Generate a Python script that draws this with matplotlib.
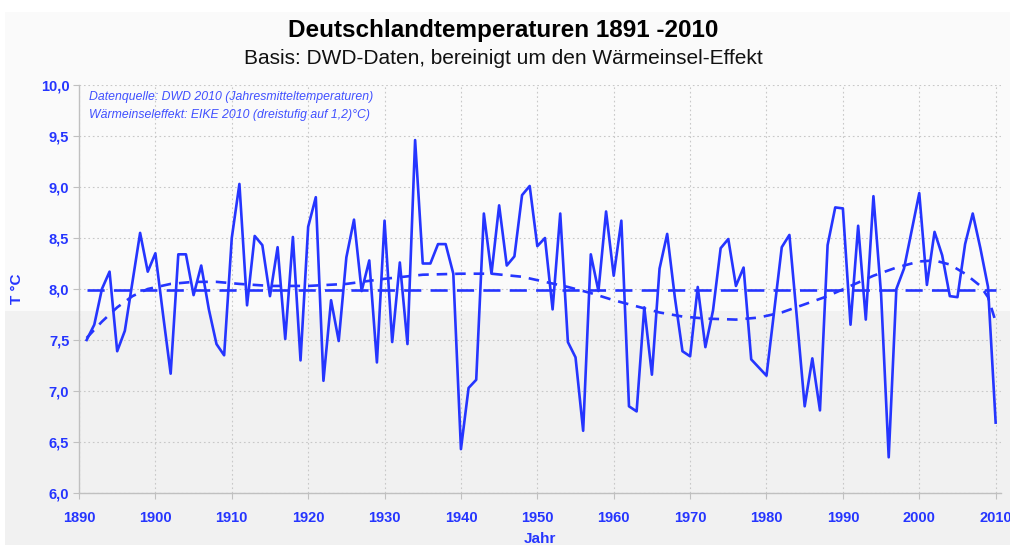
import matplotlib
matplotlib.use("Agg")
import matplotlib.pyplot as plt
from matplotlib.patches import Rectangle
from matplotlib.ticker import FuncFormatter, MultipleLocator

# ---------------- data ----------------
years = list(range(1891, 2011))
temps = [
    7.50, 7.65, 8.00, 8.17, 7.39, 7.59, 8.07, 8.55, 8.17, 8.35,   # 1891-1900
    7.75, 7.17, 8.34, 8.34, 7.94, 8.23, 7.80, 7.46, 7.35, 8.50,   # 1901-1910
    9.03, 7.84, 8.52, 8.43, 7.93, 8.41, 7.51, 8.51, 7.30, 8.61,   # 1911-1920
    8.90, 7.10, 7.89, 7.49, 8.31, 8.68, 7.98, 8.28, 7.28, 8.67,   # 1921-1930
    7.48, 8.26, 7.46, 9.46, 8.25, 8.25, 8.44, 8.44, 8.15, 6.43,   # 1931-1940
    7.03, 7.11, 8.74, 8.15, 8.82, 8.23, 8.32, 8.92, 9.01, 8.42,   # 1941-1950
    8.50, 7.80, 8.74, 7.48, 7.33, 6.61, 8.34, 7.98, 8.76, 8.13,   # 1951-1960
    8.67, 6.85, 6.80, 7.82, 7.16, 8.20, 8.54, 7.92, 7.39, 7.34,   # 1961-1970
    8.02, 7.43, 7.79, 8.40, 8.49, 8.03, 8.21, 7.31, 7.23, 7.15,   # 1971-1980
    7.78, 8.41, 8.53, 7.70, 6.85, 7.32, 6.81, 8.43, 8.80, 8.79,   # 1981-1990
    7.65, 8.62, 7.70, 8.91, 7.95, 6.35, 8.00, 8.20, 8.57, 8.94,   # 1991-2000
    8.04, 8.56, 8.33, 7.93, 7.92, 8.44, 8.74, 8.40, 8.02, 6.69,   # 2001-2010
]

mean_years = [1891, 2010]
mean_values = [7.99, 7.99]

trend_years = [1891, 1893, 1895, 1897, 1899, 1902, 1905, 1908, 1911, 1915,
               1920, 1925, 1930, 1935, 1940, 1944, 1948, 1951, 1954, 1957,
               1960, 1963, 1966, 1969, 1972, 1976, 1979, 1982, 1985, 1988,
               1991, 1994, 1997, 2000, 2002, 2004, 2006, 2008, 2009, 2010]
trend_values = [7.52, 7.68, 7.82, 7.93, 8.00, 8.05, 8.07, 8.07, 8.05, 8.03,
                8.03, 8.05, 8.10, 8.14, 8.15, 8.15, 8.12, 8.07, 8.02, 7.96,
                7.89, 7.83, 7.77, 7.73, 7.71, 7.70, 7.72, 7.77, 7.85, 7.93,
                8.03, 8.13, 8.21, 8.27, 8.28, 8.24, 8.15, 8.03, 7.92, 7.68]

x_ticks = list(range(1890, 2011, 10))

title = "Deutschlandtemperaturen 1891 -2010"
subtitle = "Basis: DWD-Daten, bereinigt um den Wärmeinsel-Effekt"
note1 = "Datenquelle: DWD 2010 (Jahresmitteltemperaturen)"
note2 = "Wärmeinseleffekt: EIKE 2010 (dreistufig auf 1,2)°C)"

# ---------------- figure ----------------
W, H = 1010, 545
fig = plt.figure(figsize=(W / 100, H / 100), dpi=100)
fig.patch.set_facecolor("white")

split_px = 311
fig.patches.append(Rectangle((5 / W, (H - split_px) / H), 1 - 5 / W, (split_px - 12) / H,
                             transform=fig.transFigure, facecolor="#fafafa",
                             edgecolor="none", zorder=-5))
fig.patches.append(Rectangle((5 / W, 0), 1 - 5 / W, (H - split_px) / H,
                             transform=fig.transFigure, facecolor="#f1f1f1",
                             edgecolor="none", zorder=-5))

left_px, right_px, top_px, bottom_px = 79, 1001, 85, 493
ax = fig.add_axes([left_px / W, (H - bottom_px) / H,
                   (right_px - left_px) / W, (bottom_px - top_px) / H])
ax.set_facecolor("none")
ax.set_zorder(2)

blue = "#2535ff"
ax.plot(years, temps, color=blue, lw=1.9, solid_joinstyle="round", zorder=3)
ax.plot(mean_years, mean_values, color=blue, lw=1.9, dashes=(6.5, 3.5), zorder=3)
ax.plot(trend_years, trend_values, color=blue, lw=1.9, dashes=(4, 3), zorder=3)

ax.set_xlim(1890, 2010.7)
ax.set_ylim(6.0, 10.0)
ax.set_xticks(x_ticks)
ax.yaxis.set_major_locator(MultipleLocator(0.5))
ax.yaxis.set_major_formatter(FuncFormatter(lambda v, p: f"{v:.1f}".replace(".", ",")))

ax.grid(True, color="#c8c8c8", linestyle=(0, (1.5, 2.5)), linewidth=0.8)
ax.set_axisbelow(True)

for s in ["top", "right"]:
    ax.spines[s].set_visible(False)
for s in ["left", "bottom"]:
    ax.spines[s].set_color("#c0c0c0")
    ax.spines[s].set_linewidth(1.0)

fam = ["Liberation Sans Narrow", "Liberation Sans", "DejaVu Sans"]
ax.tick_params(axis="both", colors="#c0c0c0", length=4, width=0.8, labelcolor=blue)
for lbl in ax.get_xticklabels() + ax.get_yticklabels():
    lbl.set_fontfamily(fam)
    lbl.set_fontweight("bold")
    lbl.set_fontsize(10.5)
ax.tick_params(axis="x", pad=9)
ax.tick_params(axis="y", pad=3)

ax.set_xlabel("Jahr", color=blue, fontweight="bold", fontsize=11, family=fam, labelpad=5)
ax.set_ylabel("T °C", color=blue, fontweight="bold", fontsize=11, family=fam, labelpad=12)

ax.text(0.011, 0.985, note1, transform=ax.transAxes, color="#4050ff", fontsize=8.8,
        style="italic", family=["Liberation Sans", "DejaVu Sans"], va="top", ha="left")
ax.text(0.011, 0.94, note2, transform=ax.transAxes, color="#4050ff", fontsize=8.8,
        style="italic", family=["Liberation Sans", "DejaVu Sans"], va="top", ha="left")

fig.text(503 / W, 1 - 30 / H, title, ha="center", va="center", fontsize=17.5,
         fontweight="bold", family=["Liberation Sans", "DejaVu Sans"], color="black")
fig.text(503 / W, 1 - 58 / H, subtitle, ha="center", va="center", fontsize=15,
         family=["Liberation Sans", "DejaVu Sans"], color="#111111")

fig.savefig("out.png", dpi=100)
